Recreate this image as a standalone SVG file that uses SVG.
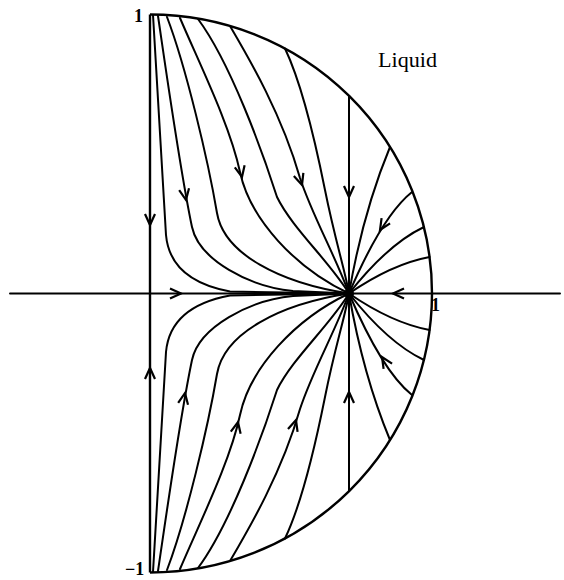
<svg xmlns="http://www.w3.org/2000/svg" xmlns:xlink="http://www.w3.org/1999/xlink" width="564" height="580" viewBox="0 0 564 580">
<style>
.ln{fill:none;stroke:#000;stroke-width:2;stroke-linecap:round;stroke-linejoin:round}
.bd{fill:none;stroke:#000;stroke-width:2.4}
.lbl{font-family:"Liberation Serif","Times New Roman",serif;fill:#000}
.num{font-weight:bold;font-size:18px}
</style>
<defs>
<path id="ah" d="M-11,-5 L0,0 L-11,5" fill="none" stroke="#000" stroke-width="2.2" stroke-linejoin="miter"/>
</defs>
<rect width="564" height="580" fill="#fff"/>
<g id="boundary">
<path class="bd" d="M150,14.5 A282,279 0 0,1 150,572.5"/>
<path class="bd" d="M150,14.5 V572.5"/>
<path class="ln" d="M10,293.5 H560"/>
</g>
<g id="connectors">
<g id="upper">
<path class="ln" d="M153,15 C158,100 164,190 166,235 C169,268 195,285 230,291.5 L349,293.5"/>
<path class="ln" d="M158,16 C166,70 180,170 192,227 C199,260 250,287 293,291 L349,293.5"/>
<path class="ln" d="M167,17 C186,67 208,160 217,213 C224,254 280,283 349,293.5"/>
<path class="ln" d="M180,18 C200,65 230,125 240,172 C250,219 295,268 349,293.5"/>
<path class="ln" d="M198,19 C230,62 262,150 277,197 C292,228 330,262 349,293.5"/>
<path class="ln" d="M230,26 C250,60 282,115 300,178 C312,215 335,255 349,293.5"/>
<path class="ln" d="M285,48.5 C300,80 315,140 325,190 C335,240 345,270 349,293.5"/>
<path class="ln" d="M349,96 V293.5"/>
<path class="ln" d="M390,147 Q363,212 349,293.5"/>
<path class="ln" d="M412,192 Q382,216 349,293.5"/>
<path class="ln" d="M424,227 Q388,244 349,293.5"/>
<path class="ln" d="M429.6,257 Q392,264 349,293.5"/>
</g>
<use id="lower" xlink:href="#upper" transform="translate(0,587) scale(1,-1)"/>
<circle cx="349" cy="293.5" r="5" fill="#000"/>
</g>
<g id="arrows">
<use xlink:href="#ah" transform="translate(150,225) rotate(90)"/>
<use xlink:href="#ah" transform="translate(186,200) rotate(80)"/>
<use xlink:href="#ah" transform="translate(242,177) rotate(78)"/>
<use xlink:href="#ah" transform="translate(302,185) rotate(72)"/>
<use xlink:href="#ah" transform="translate(349,197) rotate(90)"/>
<use xlink:href="#ah" transform="translate(380,230) rotate(122)"/>
<use xlink:href="#ah" transform="translate(393,293.5) rotate(180)"/>
<use xlink:href="#ah" transform="translate(181,293.5) rotate(0)"/>
<use xlink:href="#ah" transform="translate(150,368) rotate(-90)"/>
<use xlink:href="#ah" transform="translate(185,393) rotate(-80)"/>
<use xlink:href="#ah" transform="translate(238,422) rotate(-78)"/>
<use xlink:href="#ah" transform="translate(296,420) rotate(-73)"/>
<use xlink:href="#ah" transform="translate(349,392) rotate(-90)"/>
<use xlink:href="#ah" transform="translate(382,357) rotate(-122)"/>
</g>
<g id="labels">
<text class="lbl num" x="134" y="22">1</text>
<text class="lbl num" x="125" y="575">−1</text>
<text class="lbl num" x="431" y="311">1</text>
<text class="lbl" x="378" y="67" font-size="20" textLength="59" lengthAdjust="spacingAndGlyphs">Liquid</text>
</g>
</svg>
